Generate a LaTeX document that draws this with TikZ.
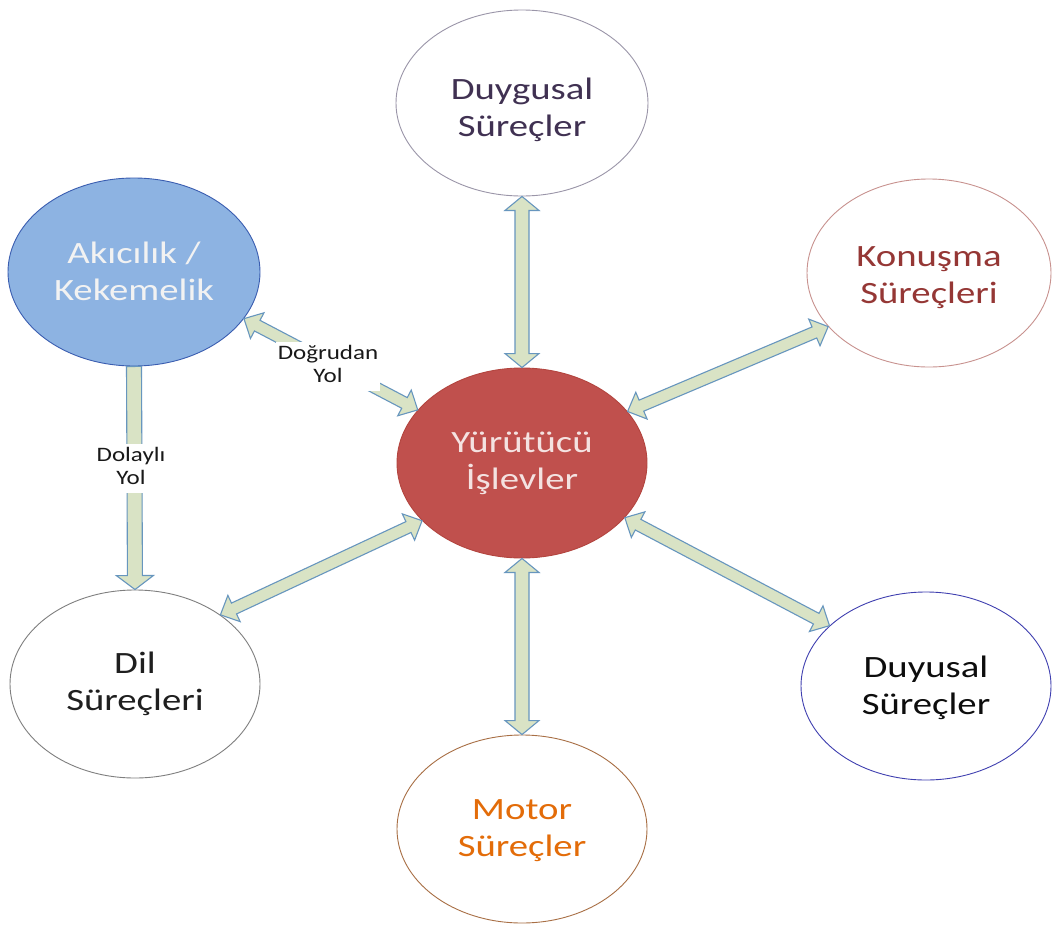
\documentclass[tikz,border=0pt]{standalone}
\usepackage{fontspec}
\setmainfont{Carlito}
\usetikzlibrary{shapes.geometric,calc}
\definecolor{arrfill}{HTML}{D9E3C5}
\definecolor{arrdraw}{HTML}{6796BE}
\definecolor{akfill}{HTML}{8DB3E2}
\definecolor{akdraw}{HTML}{3A5DB0}
\definecolor{yufill}{HTML}{C0504D}
\definecolor{yudraw}{HTML}{B3453F}
\definecolor{yutext}{HTML}{F4E2E1}
\definecolor{dgdraw}{HTML}{9A95A8}
\definecolor{dgtext}{HTML}{403152}
\definecolor{kodraw}{HTML}{C8928F}
\definecolor{kotext}{HTML}{953735}
\definecolor{dldraw}{HTML}{7F7F7F}
\definecolor{dltext}{HTML}{1F1F1F}
\definecolor{dydraw}{HTML}{4040B0}
\definecolor{dytext}{HTML}{0D0D0D}
\definecolor{modraw}{HTML}{A86F45}
\definecolor{motext}{HTML}{E36C09}
% wide text, lowered by #1 relative to the ellipse centre
\newcommand{\wtext}[2][2pt]{\raisebox{0pt}[\dimexpr\height+#1\relax][\dimexpr\depth-#1\relax]{\scalebox{1.25}[1]{\begin{tabular}{@{}c@{}}#2\end{tabular}}}}
\newcommand{\stext}[1]{\scalebox{1.22}[1]{\begin{tabular}{@{}c@{}}#1\end{tabular}}}
% double-headed block arrow: from, to, shaft half width, head half width, head length
\newcommand{\dblarr}[5]{%
\draw[blockarrow] (#1)
 -- ($(#1)!#5!(#2)!#4!90:(#2)$)
 -- ($(#1)!#5!(#2)!#3!90:(#2)$)
 -- ($(#2)!#5!(#1)!#3!-90:(#1)$)
 -- ($(#2)!#5!(#1)!#4!-90:(#1)$)
 -- (#2)
 -- ($(#2)!#5!(#1)!#4!90:(#1)$)
 -- ($(#2)!#5!(#1)!#3!90:(#1)$)
 -- ($(#1)!#5!(#2)!#3!-90:(#2)$)
 -- ($(#1)!#5!(#2)!#4!-90:(#2)$)
 -- cycle;}
% single-headed block arrow
\newcommand{\sglarr}[5]{%
\draw[blockarrow] ($(#1)!#3!90:(#2)$)
 -- ($(#2)!#5!(#1)!#3!-90:(#1)$)
 -- ($(#2)!#5!(#1)!#4!-90:(#1)$)
 -- (#2)
 -- ($(#2)!#5!(#1)!#4!90:(#1)$)
 -- ($(#2)!#5!(#1)!#3!90:(#1)$)
 -- ($(#1)!#3!-90:(#2)$)
 -- cycle;}
\tikzset{
  proc/.style={ellipse, draw, line width=0.9pt, inner sep=0pt, align=center,
    minimum width=250pt, minimum height=188pt, font=\fontsize{31}{37}\selectfont},
  lbl/.style={fill=white, inner sep=1.5pt, align=center, text=black!90,
    font=\fontsize{20.5}{23}\selectfont},
  blockarrow/.style={fill=arrfill, draw=arrdraw, line width=1.1pt, line join=miter},
}
\begin{document}
\begin{tikzpicture}[x=1pt,y=-1pt]
\useasboundingbox (0,0) rectangle (1052,924);
\fill[white] (0,0) rectangle (1052,924);
\node[proc, draw=dgdraw, text=dgtext, minimum width=252pt, minimum height=186pt] (duyg) at (522,103) {\wtext[8pt]{Duygusal\\Süreçler}};
\node[proc, fill=akfill, draw=akdraw, text=white!95!black, minimum width=252pt] (akic) at (134,272) {\wtext[3pt]{Akıcılık /\\Kekemelik}};
\node[proc, draw=kodraw, text=kotext, minimum width=244pt] (konu) at (929,273) {\wtext[5pt]{Konuşma\\Süreçleri}};
\node[proc, fill=yufill, draw=yudraw, text=yutext, minimum height=190pt] (yur) at (522,463) {\wtext[1pt]{Yürütücü\\İşlevler}};
\node[proc, draw=dldraw, text=dltext] (dil) at (135,684) {\wtext[1pt]{Dil\\Süreçleri}};
\node[proc, draw=dydraw, text=dytext] (duyu) at (926,686) {\wtext[3pt]{Duyusal\\Süreçler}};
\node[proc, draw=modraw, text=motext] (mot) at (522,829) {\wtext[2pt]{Motor\\Süreçler}};

\dblarr{duyg.south}{yur.north}{7pt}{17pt}{14pt}
\dblarr{yur.south}{mot.north}{7pt}{17pt}{14pt}
\dblarr{yur.26}{konu.208}{6pt}{14.5pt}{15pt}
\dblarr{yur.-28}{duyu.148}{6pt}{14.5pt}{15pt}
\dblarr{yur.210}{dil.39}{6pt}{14.5pt}{15pt}
\dblarr{akic.-23}{yur.153}{6pt}{14.5pt}{15pt}
\sglarr{akic.south}{dil.north}{7.5pt}{18.5pt}{14pt}

\node[lbl] (dog) at (328,366) {\stext{Doğrudan\\Yol}};
\node[lbl] (dol) at (131,468) {\stext{Dolaylı\\Yol}};
\end{tikzpicture}
\end{document}
